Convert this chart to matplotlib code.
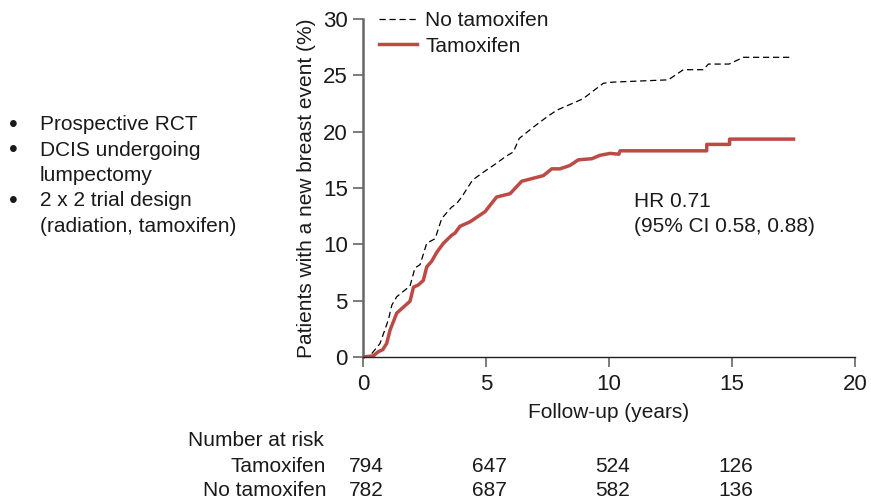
import matplotlib
matplotlib.use("Agg")
import matplotlib.pyplot as plt

plt.rcParams["font.family"] = ["Liberation Sans", "DejaVu Sans"]

# cumulative incidence of a new breast event (%), by follow-up year
tam_years = [0, 0.42, 0.62, 0.8, 0.96, 1.1, 1.37, 1.91, 2.05, 2.25, 2.45, 2.59, 2.79,
             3.0, 3.27, 3.6, 3.74, 3.94, 4.35, 4.96, 5.43, 5.98, 6.45, 7.33, 7.67,
             8.0, 8.41, 8.75, 9.3, 9.63, 10.04, 10.4, 10.45, 13.97, 13.97, 14.9,
             14.9, 17.5]
tam_pct = [0, 0.1, 0.47, 0.65, 1.2, 2.4, 3.9, 4.95, 6.2, 6.4, 6.8, 8.0, 8.5,
           9.3, 10.1, 10.8, 11.0, 11.6, 12.0, 12.9, 14.2, 14.5, 15.6, 16.1, 16.7,
           16.7, 17.0, 17.5, 17.6, 17.9, 18.07, 18.0, 18.3, 18.3, 18.87, 18.87,
           19.34, 19.34]

notam_years = [0, 0.28, 0.69, 1.03, 1.17, 1.37, 1.91, 2.11, 2.32, 2.59, 2.93, 3.2,
               3.6, 3.8, 4.01, 4.45, 4.89, 5.43, 5.8, 6.11, 6.35, 6.92, 7.47, 7.87,
               8.82, 8.96, 9.77, 10.18, 12.41, 13.02, 13.83, 14.04, 14.88, 15.46,
               17.45]
notam_pct = [0, 0.1, 1.2, 3.3, 4.6, 5.35, 6.3, 7.9, 8.2, 10.1, 10.5, 12.3,
             13.3, 13.6, 14.2, 15.7, 16.4, 17.2, 17.8, 18.2, 19.4, 20.4, 21.3, 21.9,
             22.8, 22.95, 24.3, 24.4, 24.6, 25.5, 25.5, 26.0, 26.0, 26.6,
             26.6]

risk_years = [0, 5, 10, 15]
risk_tam = [794, 647, 524, 126]
risk_notam = [782, 687, 582, 136]

bullets = [
    ["Prospective RCT"],
    ["DCIS undergoing", "lumpectomy"],
    ["2 x 2 trial design", "(radiation, tamoxifen)"],
]

RED = "#bc4a45"
SPINE = "#666666"
TXT = "#1a1a1a"
FS = 15

fig = plt.figure(figsize=(8.71, 5.0), dpi=100)
ax = fig.add_axes([0.4168, 0.286, 0.5649, 0.676])

ax.plot(notam_years, notam_pct, color="black", lw=0.9, dashes=(5, 3),
        label="No tamoxifen")
ax.plot(tam_years, tam_pct, color=RED, lw=2.5, label="Tamoxifen")

ax.set_xlim(0, 20)
ax.set_ylim(0, 30)
ax.set_xticks([0, 5, 10, 15, 20])
ax.set_yticks([0, 5, 10, 15, 20, 25, 30])
for side in ("top", "right"):
    ax.spines[side].set_visible(False)
ax.spines["left"].set_color(SPINE)
ax.spines["left"].set_linewidth(1.8)
ax.spines["bottom"].set_color("#222222")
ax.spines["bottom"].set_linewidth(1.0)
ax.tick_params(direction="out", length=7, width=1.2, color=SPINE,
               labelsize=16, labelcolor=TXT)
ax.tick_params(axis="x", pad=5)
ax.tick_params(axis="y", pad=4)

ax.set_xlabel("Follow-up (years)", fontsize=FS, labelpad=6, color=TXT)
ax.set_ylabel("Patients with a new breast event (%)", fontsize=FS,
              labelpad=5, color=TXT)

leg = ax.legend(loc="upper left", bbox_to_anchor=(0.015, 1.047), frameon=False,
                fontsize=FS, handlelength=1.85, handletextpad=0.38,
                labelspacing=0.3, borderaxespad=0.0)
for t in leg.get_texts():
    t.set_color(TXT)

ax.text(11.0, 12.7, "HR 0.71\n(95% CI 0.58, 0.88)", fontsize=FS,
        ha="left", va="center", linespacing=1.35, color=TXT)

# number-at-risk table under the x axis
def fy(py):
    return 1 - py / 500

fig.text(188 / 871, fy(440), "Number at risk", fontsize=FS,
         ha="left", va="center", color=TXT)
fig.text(326 / 871, fy(467), "Tamoxifen", fontsize=FS,
         ha="right", va="center", color=TXT)
fig.text(326 / 871, fy(491), "No tamoxifen", fontsize=FS,
         ha="right", va="center", color=TXT)
for yr, a, b in zip(risk_years, risk_tam, risk_notam):
    xf = ax.transData.transform((yr + 0.15, 0))[0] / fig.bbox.width
    fig.text(xf, fy(467), str(a), fontsize=FS, ha="center", va="center", color=TXT)
    fig.text(xf, fy(491), str(b), fontsize=FS, ha="center", va="center", color=TXT)

# study design bullets on the left
y = 125
for item in bullets:
    fig.text(9 / 871, fy(y), "\u2022", fontsize=FS + 3, ha="left",
             va="center", color=TXT)
    for line in item:
        fig.text(40 / 871, fy(y), line, fontsize=FS, ha="left",
                 va="center", color=TXT)
        y += 25.3

fig.savefig("out.png", dpi=100)
